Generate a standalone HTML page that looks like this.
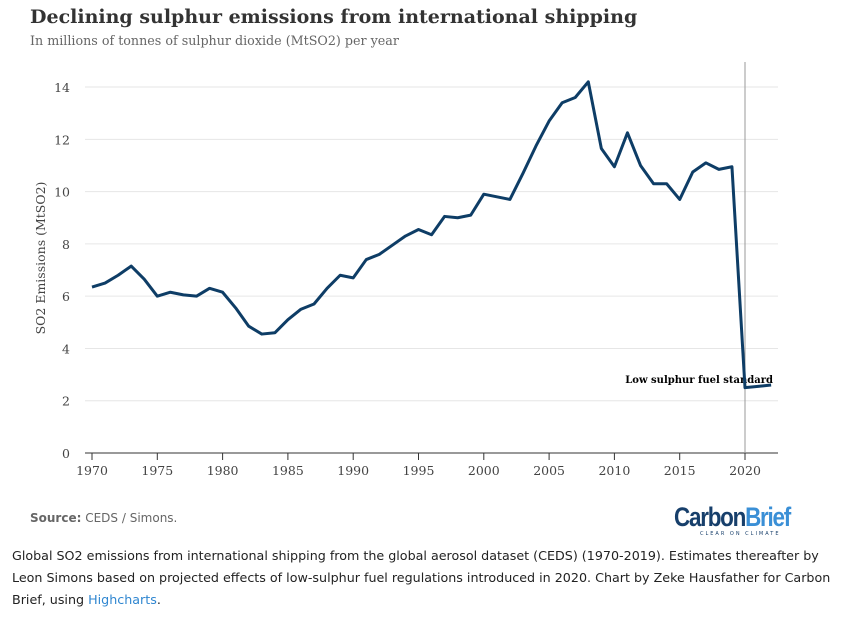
<!DOCTYPE html>
<html><head><meta charset="utf-8"><style>
body{margin:0;width:845px;height:617px;background:#fff;overflow:hidden;font-family:"DejaVu Sans",sans-serif}
</style></head><body>
<svg width="845" height="617" style="position:absolute;left:0;top:0">
<text x="30" y="23" font-family="DejaVu Serif,serif" font-weight="bold" font-size="19" fill="#333">Declining sulphur emissions from international shipping</text>
<text x="30" y="45" font-family="DejaVu Serif,serif" font-size="12.7" fill="#666">In millions of tonnes of sulphur dioxide (MtSO2) per year</text>
<g id="grid"></g><g id="axes"></g><g id="series"></g>
<text transform="translate(45,258) rotate(-90)" text-anchor="middle" font-family="DejaVu Serif,serif" font-size="12.5" fill="#444">SO2 Emissions (MtSO2)</text>
<text x="30" y="522" font-size="12" fill="#666"><tspan font-weight="bold">Source:</tspan> CEDS / Simons.</text>
<text x="674" y="526" font-family="Liberation Sans,sans-serif" font-size="27" font-weight="bold" fill="#173f6b" letter-spacing="-1.5" textLength="116" lengthAdjust="spacingAndGlyphs">Carbon<tspan fill="#3a8fd6">Brief</tspan></text>
<text x="700" y="535" font-size="5" fill="#173f6b" letter-spacing="2">CLEAR ON CLIMATE</text>
</svg>
<div style="position:absolute;left:12px;top:545px;width:830px;font-size:12.7px;line-height:22px;color:#222">Global SO2 emissions from international shipping from the global aerosol dataset (CEDS) (1970-2019). Estimates thereafter by Leon Simons based on projected effects of low-sulphur fuel regulations introduced in 2020. Chart by Zeke Hausfather for Carbon Brief, using <span style="color:#2f86d0">Highcharts</span>.</div>
<script>
const years=[1970,1971,1972,1973,1974,1975,1976,1977,1978,1979,1980,1981,1982,1983,1984,1985,1986,1987,1988,1989,1990,1991,1992,1993,1994,1995,1996,1997,1998,1999,2000,2001,2002,2003,2004,2005,2006,2007,2008,2009,2010,2011,2012,2013,2014,2015,2016,2017,2018,2019,2020,2021,2022];
const emissions=[6.35,6.5,6.8,7.15,6.65,6.0,6.15,6.05,6.0,6.3,6.15,5.55,4.85,4.55,4.6,5.1,5.5,5.7,6.3,6.8,6.7,7.4,7.6,7.95,8.3,8.55,8.35,9.05,9.0,9.1,9.9,9.8,9.7,10.7,11.75,12.7,13.4,13.6,14.2,11.65,10.95,12.25,11.0,10.3,10.3,9.7,10.75,11.1,10.85,10.95,2.5,2.55,2.6];
const yTicks=[0,2,4,6,8,10,12,14];
const xTicks=[1970,1975,1980,1985,1990,1995,2000,2005,2010,2015,2020];
const NS='http://www.w3.org/2000/svg';
const X=y=>92+(y-1970)*13.06, Y=v=>453-v*26.14;
function mk(t,a,p){const e=document.createElementNS(NS,t);for(const k in a)e.setAttribute(k,a[k]);p.appendChild(e);return e;}
const g=document.getElementById('grid'),ax=document.getElementById('axes'),s=document.getElementById('series');
yTicks.forEach(v=>{
 const l=mk('line',{x1:85,x2:778,y1:Y(v),y2:Y(v),stroke:v?'#e6e6e6':'#333','stroke-width':1},g);
 
 
 const t=mk('text',{x:70,y:Y(v)+5,'text-anchor':'end','font-family':'DejaVu Serif,serif','font-size':12.5,fill:'#444'},ax);
 t.textContent=v;
 
 
});
xTicks.forEach(y=>{
 const l=mk('line',{x1:X(y),x2:X(y),y1:453,y2:460,stroke:'#333'},ax);
 
 
 const t=mk('text',{x:X(y),y:475,'text-anchor':'middle','font-family':'DejaVu Serif,serif','font-size':12.5,fill:'#444'},ax);
 t.textContent=y;
 
 
});
const pl=mk('line',{x1:X(2020),x2:X(2020),y1:62,y2:453,stroke:'#999','stroke-width':1},ax);


const lab=mk('text',{x:X(2020)+28,y:383,'text-anchor':'end','font-family':'DejaVu Serif,serif','font-size':10,'font-weight':'bold',fill:'#000'},ax);
lab.textContent='Low sulphur fuel standard';


const path=mk('path',{d:years.map((y,i)=>(i?'L':'M')+X(y)+','+Y(emissions[i])).join(''),fill:'none',stroke:'#0e3d66','stroke-width':3,'stroke-linejoin':'round'},s);


</script>
</body></html>
